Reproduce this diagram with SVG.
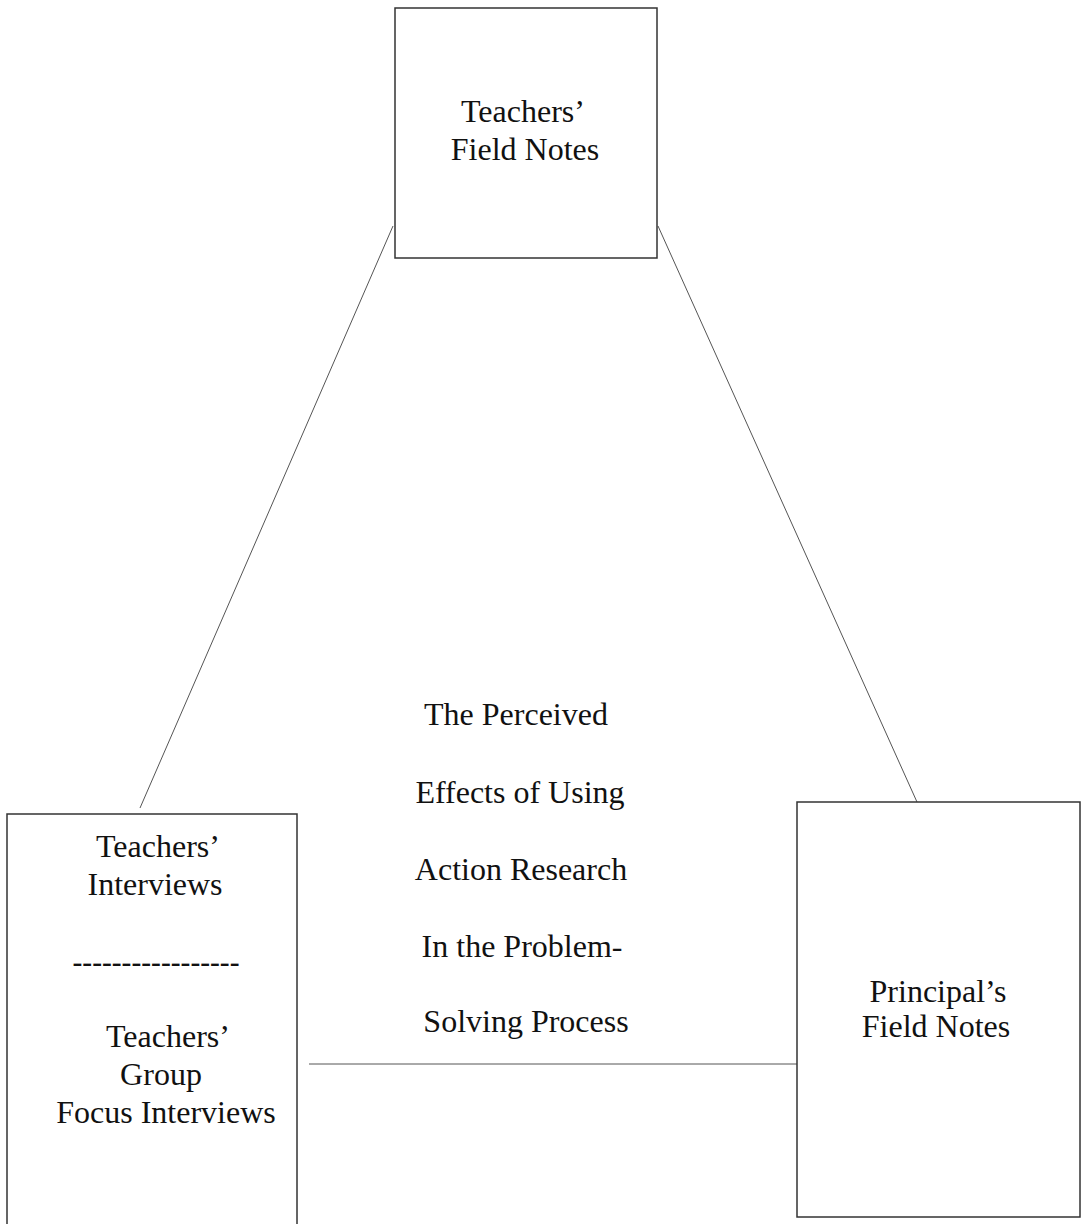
<svg xmlns="http://www.w3.org/2000/svg" width="1081" height="1224" viewBox="0 0 1081 1224">
<style>
.box{fill:#fff;stroke:#333;stroke-width:1.5}
.con{stroke:#555;stroke-width:1;fill:none}
text{font-family:"Liberation Serif","Times New Roman",serif;font-size:32px;fill:#111;text-anchor:middle}
</style>
<rect width="1081" height="1224" fill="#fff"/>
<g id="connectors">
<line class="con" x1="393" y1="226" x2="140" y2="808"/>
<line class="con" x1="658" y1="226" x2="917" y2="802"/>
<line class="con" x1="309" y1="1064" x2="797" y2="1064"/>
</g>
<g id="teachers-field-notes">
<rect class="box" x="395" y="8" width="262" height="250"/>
<text x="523" y="122">Teachers’</text>
<text x="525" y="160">Field Notes</text>
</g>
<g id="teachers-interviews">
<rect class="box" x="7" y="814" width="290" height="420"/>
<text x="158" y="857">Teachers’</text>
<text x="155" y="895">Interviews</text>
<text x="156" y="972" textLength="167" lengthAdjust="spacingAndGlyphs">-----------------</text>
<text x="168" y="1047">Teachers’</text>
<text x="161" y="1085">Group</text>
<text x="166" y="1123">Focus Interviews</text>
</g>
<g id="principals-field-notes">
<rect class="box" x="797" y="802" width="283" height="415"/>
<text x="938" y="1002">Principal’s</text>
<text x="936" y="1037">Field Notes</text>
</g>
<g id="center-label">
<text x="516" y="725">The Perceived</text>
<text x="520" y="803">Effects of Using</text>
<text x="521" y="880">Action Research</text>
<text x="522" y="957">In the Problem-</text>
<text x="526" y="1032">Solving Process</text>
</g>
</svg>
